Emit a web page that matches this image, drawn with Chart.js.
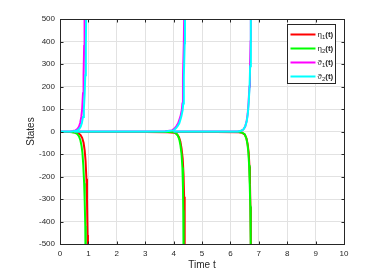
<!DOCTYPE html>
<html><head><meta charset="utf-8">
<script src="https://cdn.jsdelivr.net/npm/chart.js@4/dist/chart.umd.min.js"></script>
<style>html,body{margin:0;padding:0;background:#fff;}#wrap{width:376px;height:271px;position:relative;}</style>
</head><body>
<div id="wrap"><canvas id="c"></canvas></div>
<script>
// ---- data ----
const seriesNames = ['η₁(t)', 'η₂(t)', 'ϑ₁(t)', 'ϑ₂(t)'];
const seriesBase = ['η', 'η', 'ϑ', 'ϑ'];
const seriesSub = ['1', '2', '1', '2'];
const seriesColors = ['#ff0000', '#00ff00', '#ff00ff', '#00ffff'];
const xTickValues = [0, 1, 2, 3, 4, 5, 6, 7, 8, 9, 10];
const yTickValues = [-500, -400, -300, -200, -100, 0, 100, 200, 300, 400, 500];

// eta1 (red)
const eta1T = [0, 0.4, 0.55, 0.65, 0.72, 0.78, 0.83, 0.87, 0.9, 0.93, 0.95, 0.97, 0.985, 0.99,
  0.6, 2.0, 3.0, 3.8, 4.04, 4.12, 4.19, 4.24, 4.28, 4.32, 4.35, 4.37, 4.385, 4.395, 4.4,
  4.1, 5.5, 6.3, 6.42, 6.51, 6.57, 6.61, 6.645, 6.67, 6.69, 6.705, 6.715, 6.725, 6.735];
const eta1V = [-2, -2, -4, -8, -15, -28, -50, -85, -130, -210, -300, -460, -700, null,
  -2, -2, -2, -3, -6, -12, -25, -45, -75, -120, -190, -290, -420, -650, null,
  -2, -2, -3, -6, -14, -32, -58, -95, -155, -235, -335, -415, -505, -700];

// eta2 (green)
const eta2T = [0, 0.35, 0.5, 0.6, 0.67, 0.72, 0.76, 0.79, 0.82, 0.85, 0.87, 0.89, 0.9, 0.91, 0.915,
  0.55, 2.0, 3.0, 3.9, 4.0, 4.08, 4.15, 4.2, 4.24, 4.28, 4.31, 4.33, 4.34, 4.35, 4.36, 4.365,
  4.05, 5.5, 6.3, 6.4, 6.5, 6.56, 6.6, 6.63, 6.66, 6.68, 6.7, 6.71, 6.72, 6.73];
const eta2V = [-2, -2, -4, -10, -22, -40, -65, -95, -150, -230, -310, -420, -500, -650, null,
  -2, -2, -2, -2, -3, -8, -18, -35, -60, -100, -160, -250, -350, -500, -650, null,
  -2, -2, -2, -4, -12, -30, -55, -90, -150, -230, -330, -410, -500, -700];

// phi1 (magenta)
const phi1T = [0, 0.35, 0.45, 0.55, 0.62, 0.67, 0.71, 0.75, 0.78, 0.81, 0.83, 0.85, 0.86, 0.87, 0.875,
  0.5, 2.0, 3.0, 3.7, 3.95, 4.04, 4.1, 4.16, 4.24, 4.29, 4.31, 4.33, 4.36, 4.37, 4.38, 4.385,
  4.0, 5.5, 6.25, 6.35, 6.45, 6.52, 6.57, 6.61, 6.64, 6.67, 6.69, 6.71, 6.72, 6.73];
const phi1V = [0, 0, 2, 5, 12, 22, 38, 65, 100, 170, 250, 380, 500, 700, null,
  0, 0, 0, 1, 5, 14, 24, 36, 66, 96, 125, 244, 392, 496, 700, null,
  0, 0, 0, 2, 8, 22, 45, 80, 130, 200, 290, 400, 500, 700];

// phi2 (cyan)
const phi2T = [0, 0.4, 0.52, 0.61, 0.68, 0.73, 0.77, 0.81, 0.84, 0.87, 0.89, 0.91, 0.92, 0.93, 0.935,
  0.5, 2.0, 3.0, 3.75, 4.0, 4.08, 4.14, 4.2, 4.27, 4.32, 4.34, 4.36, 4.39, 4.4, 4.41, 4.415,
  4.0, 5.5, 6.25, 6.35, 6.45, 6.52, 6.575, 6.615, 6.645, 6.675, 6.695, 6.715, 6.725, 6.735];
const phi2V = [0, 0, 2, 5, 12, 22, 38, 65, 100, 170, 250, 380, 500, 700, null,
  0, 0, 0, 1, 5, 14, 24, 36, 66, 96, 125, 244, 392, 496, 700, null,
  0, 0, 0, 2, 8, 22, 45, 80, 130, 200, 290, 400, 500, 700];

const seriesT = [eta1T, eta2T, phi1T, phi2T];
const seriesV = [eta1V, eta2V, phi1V, phi2V];

const datasets = seriesNames.map((name, i) => ({
  label: name,
  data: seriesT[i].map((t, k) => ({x: t, y: seriesV[i][k]})),
  borderColor: seriesColors[i],
  backgroundColor: seriesColors[i],
  borderWidth: 2,
  pointRadius: 0,
  tension: 0,
  spanGaps: false,
  order: 4 - i
}));

const INK = '#262626';

const framePlugin = {
  id: 'frame',
  afterDraw(chart) {
    const {ctx, chartArea: a, scales: {x, y}} = chart;
    ctx.save();
    // legend inside the axes
    const bw = 48, bh = 59;
    const bx = Math.round(a.right) - 9 - bw + 0.5, by = Math.round(a.top) + 5 + 0.5;
    ctx.fillStyle = '#fff';
    ctx.fillRect(bx, by, bw, bh);
    ctx.strokeStyle = INK; ctx.lineWidth = 1;
    ctx.strokeRect(bx, by, bw, bh);
    chart.data.datasets.forEach((ds, i) => {
      const cy = by + 10 + i * 14;
      ctx.strokeStyle = ds.borderColor; ctx.lineWidth = 2;
      ctx.beginPath(); ctx.moveTo(bx + 3, cy); ctx.lineTo(bx + 28, cy); ctx.stroke();
      ctx.fillStyle = INK;
      ctx.textBaseline = 'middle'; ctx.textAlign = 'left';
      let tx = bx + 30;
      ctx.font = '8px "Liberation Sans", Arial, sans-serif';
      ctx.fillText(seriesBase[i], tx, cy);
      tx += ctx.measureText(seriesBase[i]).width;
      ctx.font = '6px "Liberation Sans", Arial, sans-serif';
      ctx.fillText(seriesSub[i], tx, cy + 2.5);
      tx += ctx.measureText(seriesSub[i]).width;
      ctx.font = 'bold 8px "Liberation Sans", Arial, sans-serif';
      ctx.fillText('(t)', tx, cy);
    });
    // axes box
    const L = Math.round(a.left) + 0.5, R = Math.round(a.right) + 0.5;
    const T = Math.round(a.top) + 0.5, B = Math.round(a.bottom) + 0.5;
    ctx.strokeStyle = INK; ctx.lineWidth = 1;
    ctx.strokeRect(L, T, R - L, B - T);
    ctx.beginPath();
    xTickValues.forEach(v => {
      const px = Math.round(x.getPixelForValue(v)) + 0.5;
      ctx.moveTo(px, B); ctx.lineTo(px, B - 3);
      ctx.moveTo(px, T); ctx.lineTo(px, T + 3);
    });
    yTickValues.forEach(v => {
      const py = Math.round(y.getPixelForValue(v)) + 0.5;
      ctx.moveTo(L, py); ctx.lineTo(L + 3, py);
      ctx.moveTo(R, py); ctx.lineTo(R - 3, py);
    });
    ctx.stroke();
    ctx.restore();
  }
};

new Chart(document.getElementById('c'), {
  type: 'line',
  data: {datasets},
  options: {
    responsive: true,
    maintainAspectRatio: false,
    animation: false,
    devicePixelRatio: 1,
    layout: {padding: {left: 0, right: 32, top: 19, bottom: 0}},
    plugins: {legend: {display: false}, tooltip: {enabled: false}},
    scales: {
      x: {
        type: 'linear', min: 0, max: 10,
        afterBuildTicks: s => { s.ticks = xTickValues.map(v => ({value: v})); },
        afterFit: s => { s.height = 27; },
        ticks: {color: INK, font: {size: 8, family: '"Liberation Sans", Arial, sans-serif'}, padding: 5, maxRotation: 0},
        grid: {color: '#e2e2e2', drawTicks: false},
        border: {display: false},
        title: {display: true, text: 'Time t', color: INK, font: {size: 10, family: '"Liberation Sans", Arial, sans-serif'}, padding: 0}
      },
      y: {
        type: 'linear', min: -500, max: 500,
        afterBuildTicks: s => { s.ticks = yTickValues.map(v => ({value: v})); },
        afterFit: s => { s.width = 60; },
        ticks: {color: INK, font: {size: 8, family: '"Liberation Sans", Arial, sans-serif'}, padding: 5},
        grid: {color: '#e2e2e2', drawTicks: false},
        border: {display: false},
        title: {display: true, text: 'States', color: INK, font: {size: 10, family: '"Liberation Sans", Arial, sans-serif'}, padding: {top: 25, bottom: 0}}
      }
    }
  },
  plugins: [framePlugin]
});
</script>
</body></html>
